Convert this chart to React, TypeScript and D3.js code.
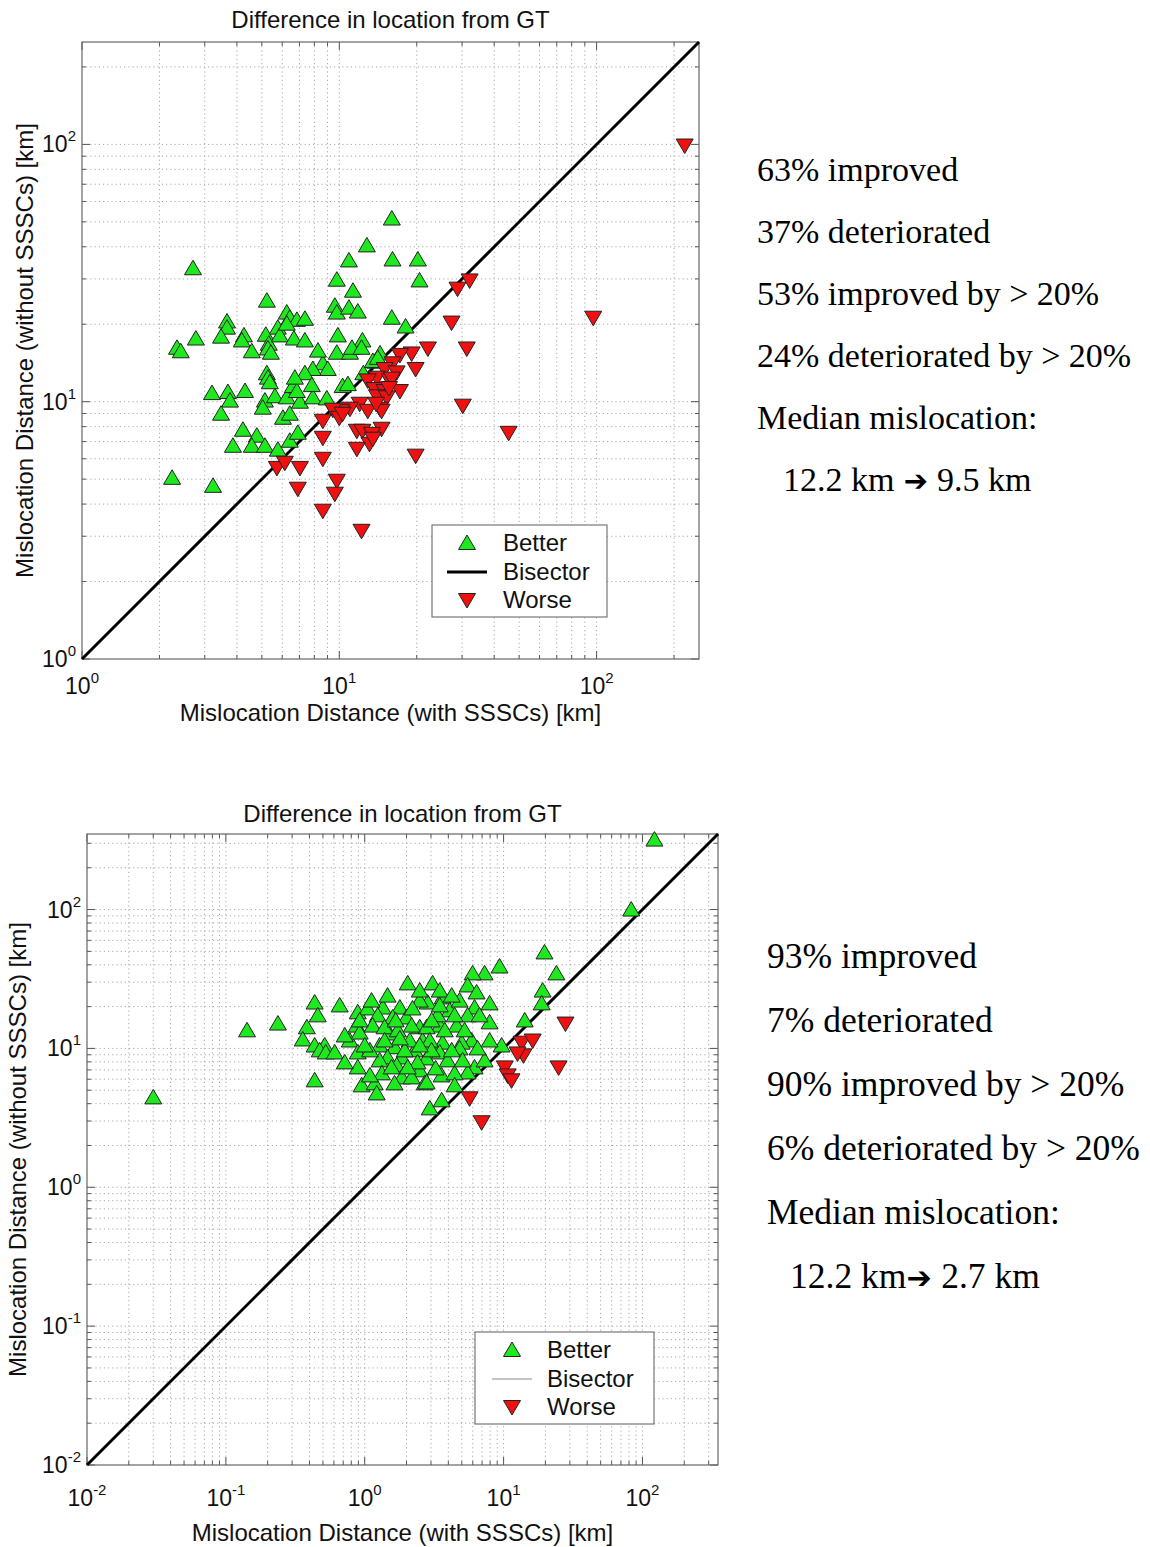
import React from "react";
import * as d3 from "d3";

type Pt = [number, number];

// [mislocation with SSSCs, mislocation without SSSCs] in km
const topBetter: Pt[] = [
  [2.7, 33], [2.34, 16.2], [2.42, 15.7], [2.77, 17.6], [3.66, 20.5], [3.66, 19.4], [3.47, 17.9], [4.26, 18.1],
  [4.18, 17.3], [4.57, 15.7], [5.23, 24.7], [5.18, 18.2], [5.32, 16.8], [5.28, 16.1], [5.42, 15.5], [5.77, 19.4],
  [5.87, 18.1], [6.25, 22.2], [6.42, 21.2], [6.84, 20.8], [7.35, 21.0], [6.25, 20.1], [6.66, 17.6], [7.35, 17.3],
  [10.9, 35.4], [9.78, 29.8], [11.3, 27.0], [9.61, 23.6], [9.78, 22.2], [10.9, 23.2], [11.8, 22.4], [12.8, 40.5],
  [9.87, 18.1], [12.3, 17.3], [9.78, 15.5], [11.0, 15.5], [11.2, 16.2], [8.63, 14.1], [9.02, 13.4], [7.89, 13.4],
  [7.35, 12.9], [5.23, 12.9], [16.0, 51.5], [16.1, 35.7], [20.2, 35.7], [20.5, 29.6], [16.0, 21.2], [18.1, 19.6],
  [12.2, 16.2], [14.4, 15.4], [13.8, 14.3], [3.2, 10.8], [3.69, 10.9], [4.3, 11.0], [3.76, 10.1], [3.47, 8.98],
  [4.22, 7.78], [4.78, 7.38], [3.86, 6.74], [4.57, 6.74], [5.14, 6.74], [5.77, 6.51], [6.42, 7.05], [6.9, 7.57],
  [6.04, 8.66], [6.42, 8.98], [5.14, 10.1], [5.62, 10.5], [6.25, 10.4], [7.03, 10.0], [7.89, 10.4], [8.94, 10.3],
  [5.04, 9.48], [5.28, 12.4], [5.37, 11.9], [7.82, 11.6], [6.6, 11.5], [6.84, 11.0], [10.3, 11.5], [10.8, 11.7],
  [2.24, 5.06], [3.23, 4.71], [12.4, 12.9], [13.5, 14.4], [14.1, 14.8], [6.72, 12.4], [8.26, 15.8],
];
const topWorse: Pt[] = [
  [220, 99], [97, 21.2], [45.5, 7.57], [32.1, 29.6], [28.8, 27.5], [27.3, 20.3], [31.3, 16.1], [22.1, 16.1],
  [19.8, 13.4], [19.1, 15.4], [17.2, 15.2], [16.1, 14.1], [15.0, 13.4], [16.7, 13.0], [14.0, 12.4], [12.9, 12.1],
  [15.7, 12.1], [17.2, 11.0], [13.7, 11.2], [15.0, 11.0], [14.0, 10.5], [15.3, 10.4], [14.4, 9.39], [12.0, 9.82],
  [11.0, 9.39], [10.2, 9.22], [9.44, 9.31], [10.0, 8.66], [12.9, 9.22], [30.2, 9.65], [11.7, 7.71], [12.3, 7.71],
  [14.6, 7.85], [13.4, 7.5], [13.1, 6.86], [11.7, 6.56], [19.8, 6.17], [9.78, 4.93], [9.61, 4.39], [12.2, 3.15],
  [8.63, 8.43], [8.63, 7.24], [8.63, 6.0], [5.72, 5.53], [6.14, 5.79], [7.03, 5.53], [6.9, 4.59], [8.63, 3.77],
  [16.0, 12.3], [10.3, 8.98], [14.6, 9.22], [13.5, 7.18], [15.6, 11.3], [13.9, 9.82],
];

const bottomBetter: Pt[] = [
  [0.03, 4.44], [0.142, 13.5], [0.237, 15.1], [0.436, 21.4], [0.459, 17.3], [0.66, 20.4], [0.383, 14.2], [0.358, 11.6],
  [0.436, 10.5], [0.515, 10.5], [0.474, 9.68], [0.524, 9.35], [0.608, 9.35], [0.436, 5.89], [0.891, 18.2], [0.875, 14.6],
  [1.05, 19.4], [1.35, 19.7], [1.24, 17.3], [1.14, 14.6], [0.78, 11.4], [0.92, 13.0], [0.891, 9.35], [0.891, 7.3],
  [0.951, 5.42], [1.18, 5.6], [1.22, 4.74], [2.04, 29.4], [1.79, 19.7], [2.0, 16.7], [1.59, 16.7], [1.51, 12.8],
  [1.28, 10.5], [1.64, 10.2], [1.46, 8.61], [1.28, 8.2], [1.85, 8.61], [1.7, 7.55], [1.33, 6.61], [1.85, 6.18],
  [2.49, 14.2], [2.61, 11.4], [2.29, 9.68], [2.79, 8.47], [2.49, 6.95], [2.18, 6.18], [2.7, 5.6], [3.08, 29.4],
  [2.84, 21.4], [2.49, 22.1], [2.94, 3.7], [3.58, 4.23], [19.7, 49.1], [9.35, 38.9], [7.3, 34.7], [5.98, 34.7],
  [24.0, 34.7], [5.51, 28.4], [6.39, 25.3], [3.64, 23.3], [19.1, 26.1], [18.8, 21.1], [7.93, 21.1], [7.93, 15.4],
  [6.18, 19.7], [5.51, 17.3], [4.09, 18.8], [4.59, 14.6], [3.47, 14.6], [2.79, 14.2], [5.89, 11.4], [4.99, 11.0],
  [4.82, 10.0], [3.64, 11.0], [3.47, 9.35], [2.94, 11.4], [6.18, 7.3], [5.51, 6.71], [3.58, 6.39], [2.79, 5.69],
  [14.2, 15.9], [9.68, 10.5], [83, 100], [122, 319], [3.47, 26.1], [1.39, 14.2], [1.73, 13.5], [2.11, 11.4],
  [3.03, 9.68], [3.95, 8.2], [4.44, 6.61], [2.21, 19.4], [3.35, 17.3], [4.82, 22.1], [1.09, 9.68], [0.718, 7.93],
  [1.12, 22.1], [1.46, 24.0], [1.67, 15.9], [1.94, 9.68], [2.4, 7.93], [3.24, 7.18], [4.23, 9.68], [5.24, 13.5],
  [6.71, 17.3], [4.44, 17.3], [3.77, 13.5], [3.03, 15.9], [2.18, 14.6], [1.79, 11.8], [1.39, 11.4], [1.0, 10.5],
  [1.56, 7.3], [1.09, 6.39], [2.04, 7.3], [4.44, 5.42], [7.3, 8.2], [7.93, 11.4], [6.5, 10.0], [2.49, 10.5],
  [3.47, 20.4], [4.23, 24.0], [2.49, 26.1], [0.92, 15.9], [0.718, 12.4], [1.64, 5.6], [5.07, 8.2],
];
const bottomWorse: Pt[] = [
  [27.9, 15.1], [24.9, 7.3], [13.5, 11.0], [16.2, 11.4], [13.9, 8.91], [12.6, 9.2], [10.2, 7.3], [10.7, 6.39],
  [11.4, 5.89], [5.69, 4.37], [6.95, 2.94],
];

const topDomain: Pt = [1, 250];
const bottomDomain: Pt = [0.01, 350];

const titleText = "Difference in location from GT";
const xLabelText = "Mislocation Distance (with SSSCs) [km]";
const yLabelText = "Mislocation Distance (without SSSCs) [km]";
const legendLabels = ["Better", "Bisector", "Worse"];

const topStats = ["63% improved", "37% deteriorated", "53% improved by > 20%", "24% deteriorated by > 20%", "Median  mislocation:"];
const topMedian = ["12.2 km", "9.5 km"];
const bottomStats = ["93% improved", "7% deteriorated", "90% improved by > 20%", "6% deteriorated by > 20%", "Median mislocation:"];
const bottomMedian = ["12.2 km", "2.7 km"];

const GREEN = "#1ee81e";
const RED = "#f01010";
const SANS = "'Liberation Sans', Arial, Helvetica, sans-serif";
const SERIF = "'Liberation Serif', 'Times New Roman', serif";

const upTri = "M0,-8L8.5,6.5L-8.5,6.5Z";
const downTri = "M0,8L8.5,-6.5L-8.5,-6.5Z";

const isDecade = (v: number) => Math.abs(Math.log10(v) - Math.round(Math.log10(v))) < 1e-6;

function Pow({ v, ...rest }: any) {
  const e = Math.round(Math.log10(v));
  return (
    <text {...rest}>
      <tspan>10</tspan>
      <tspan fontSize={15} dy={-11}>{e}</tspan>
    </text>
  );
}

function Panel(p: any) {
  const { better, worse, domain, left, top, size, fs, titleY, xTickY, xLabelY, yLabelX, lg, thinKey } = p;
  const x = d3.scaleLog().domain(domain).range([left, left + size]);
  const y = d3.scaleLog().domain(domain).range([top + size, top]);
  const allTicks = x.ticks();
  const ticks = allTicks.filter((v) => v > domain[0] * 1.0001 && v < domain[1]);
  const majors = allTicks.filter(isDecade);
  const bisector = d3.line<number>().x((d) => x(d)).y((d) => y(d))(domain);
  const right = left + size;
  const bottom = top + size;
  const rows = [lg.y + 18, lg.y + 47, lg.y + 75];

  return (
    <g fontFamily={SANS} fill="#111">
      <rect x={left} y={top} width={size} height={size} fill="#fff" />
      {ticks.map((v: number, i: number) => (
        <g key={"g" + i} stroke="#a8a8a8" strokeWidth={1} strokeDasharray="1.2 3">
          <line x1={x(v)} x2={x(v)} y1={top} y2={bottom} />
          <line x1={left} x2={right} y1={y(v)} y2={y(v)} />
        </g>
      ))}
      {allTicks.map((v: number, i: number) => {
        const len = isDecade(v) ? 8 : 4;
        return (
          <g key={"t" + i} stroke="#555" strokeWidth={1}>
            <line x1={x(v)} x2={x(v)} y1={bottom} y2={bottom - len} />
            <line x1={x(v)} x2={x(v)} y1={top} y2={top + len} />
            <line x1={left} x2={left + len} y1={y(v)} y2={y(v)} />
            <line x1={right} x2={right - len} y1={y(v)} y2={y(v)} />
          </g>
        );
      })}
      <rect x={left} y={top} width={size} height={size} fill="none" stroke="#666" strokeWidth={1.2} />
      <path d={bisector || ""} stroke="#000" strokeWidth={3} fill="none" />
      {better.map((d: Pt, i: number) => (
        <path key={"b" + i} d={upTri} transform={`translate(${x(d[0])},${y(d[1])})`} fill={GREEN} stroke="#222" strokeWidth={1} />
      ))}
      {worse.map((d: Pt, i: number) => (
        <path key={"w" + i} d={downTri} transform={`translate(${x(d[0])},${y(d[1])})`} fill={RED} stroke="#222" strokeWidth={1} />
      ))}
      {majors.map((v: number, i: number) => (
        <Pow key={"xl" + i} v={v} x={x(v)} y={xTickY} textAnchor="middle" fontSize={23} />
      ))}
      {majors.map((v: number, i: number) => (
        <Pow key={"yl" + i} v={v} x={left - 6} y={y(v) + 8} textAnchor="end" fontSize={23} />
      ))}
      <text x={left + size / 2} y={titleY} textAnchor="middle" fontSize={fs}>{titleText}</text>
      <text x={left + size / 2} y={xLabelY} textAnchor="middle" fontSize={fs}>{xLabelText}</text>
      <text transform={`translate(${yLabelX},${top + size / 2}) rotate(-90)`} textAnchor="middle" fontSize={fs}>{yLabelText}</text>

      <rect x={lg.x} y={lg.y} width={lg.w} height={92} fill="#fff" stroke="#777" strokeWidth={1.2} />
      <path d={upTri} transform={`translate(${lg.mx},${rows[0]})`} fill={GREEN} stroke="#222" />
      <line x1={lg.mx - 20} x2={lg.mx + 20} y1={rows[1]} y2={rows[1]} stroke={thinKey ? "#888" : "#000"} strokeWidth={thinKey ? 1.2 : 3} />
      <path d={downTri} transform={`translate(${lg.mx},${rows[2]})`} fill={RED} stroke="#222" />
      {legendLabels.map((t, i) => (
        <text key={"lt" + i} x={lg.tx} y={rows[i] + 8} fontSize={fs}>{t}</text>
      ))}
    </g>
  );
}

function Stats({ lines, median, x, y0, step, fs, indent, gap }: any) {
  return (
    <g fontFamily={SERIF} fontSize={fs} fill="#000" style={{ whiteSpace: "pre" }}>
      {lines.map((t: string, i: number) => (
        <text key={i} x={x} y={y0 + i * step}>{t}</text>
      ))}
      <text x={x + indent} y={y0 + lines.length * step}>
        {median[0]}
        <tspan fontFamily="'DejaVu Sans', sans-serif" fontSize={fs * 0.85}>{gap + "\u2794 "}</tspan>
        {median[1]}
      </text>
    </g>
  );
}

export default function App() {
  return (
    <svg width={1150} height={1547} style={{ position: "absolute", left: 0, top: 0, background: "#fff" }}>
      <rect width={1150} height={1547} fill="#fff" />
      <Panel
        better={topBetter} worse={topWorse} domain={topDomain}
        left={82} top={42} size={617} fs={24}
        titleY={28} xTickY={694} xLabelY={721} yLabelX={33}
        lg={{ x: 432, y: 525, w: 175, mx: 467, tx: 503 }} thinKey={false}
      />
      <Panel
        better={bottomBetter} worse={bottomWorse} domain={bottomDomain}
        left={87} top={834} size={631} fs={24}
        titleY={822} xTickY={1506} xLabelY={1541} yLabelX={26}
        lg={{ x: 475, y: 1332, w: 179, mx: 512, tx: 547 }} thinKey={true}
      />
      <Stats lines={topStats} median={topMedian} x={757} y0={181} step={62} fs={34} indent={26} gap=" " />
      <Stats lines={bottomStats} median={bottomMedian} x={767} y0={968} step={64} fs={35.5} indent={23} gap="" />
    </svg>
  );
}
